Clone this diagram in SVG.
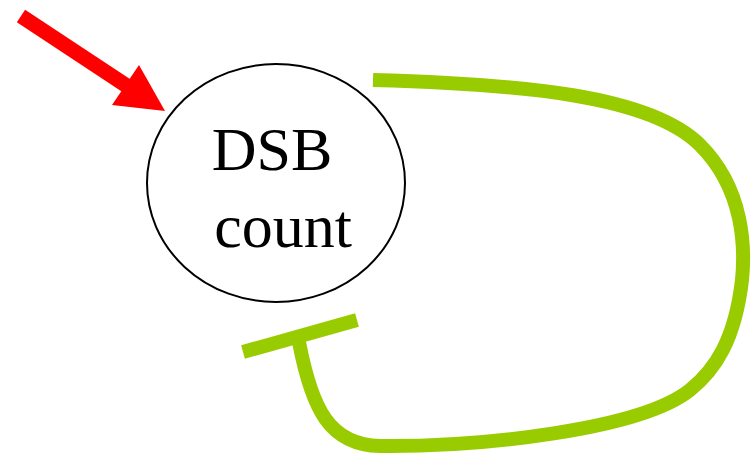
<svg xmlns="http://www.w3.org/2000/svg" width="752" height="456" viewBox="0 0 752 456">
  <style>
    .node-shape { fill: #ffffff; stroke: #000000; stroke-width: 2; }
    .label { font-family: "Liberation Serif", "Times New Roman", serif; font-size: 62px; fill: #000000; text-anchor: middle; }
    .activate { stroke: #ff0000; stroke-width: 15; fill: none; }
    .inhibit { stroke: #99cc00; stroke-width: 14; fill: none; }
  </style>
  <rect width="752" height="456" fill="#ffffff"/>

  <g id="connectors">
    <!-- incoming activation arrow -->
    <line class="activate" x1="21" y1="16" x2="130" y2="88"/>
    <polygon points="165,111 139,65 112,105" fill="#ff0000"/>
    <!-- negative feedback loop ending in a T-bar -->
    <path class="inhibit" d="M373,80 C 520,84 650,95 700,145 C 745,190 745,250 742,280 C 735,340 715,370 690,390 C 640,430 480,447 380,446 C 330,445 312,410 299,342"/>
    <line class="inhibit" x1="243" y1="352" x2="357" y2="320"/>
  </g>

  <g id="dsb-count">
    <ellipse class="node-shape" cx="276" cy="183" rx="129" ry="119"/>
    <text class="label" x="272" y="170">DSB</text>
    <text class="label" x="283" y="247">count</text>
  </g>
</svg>
